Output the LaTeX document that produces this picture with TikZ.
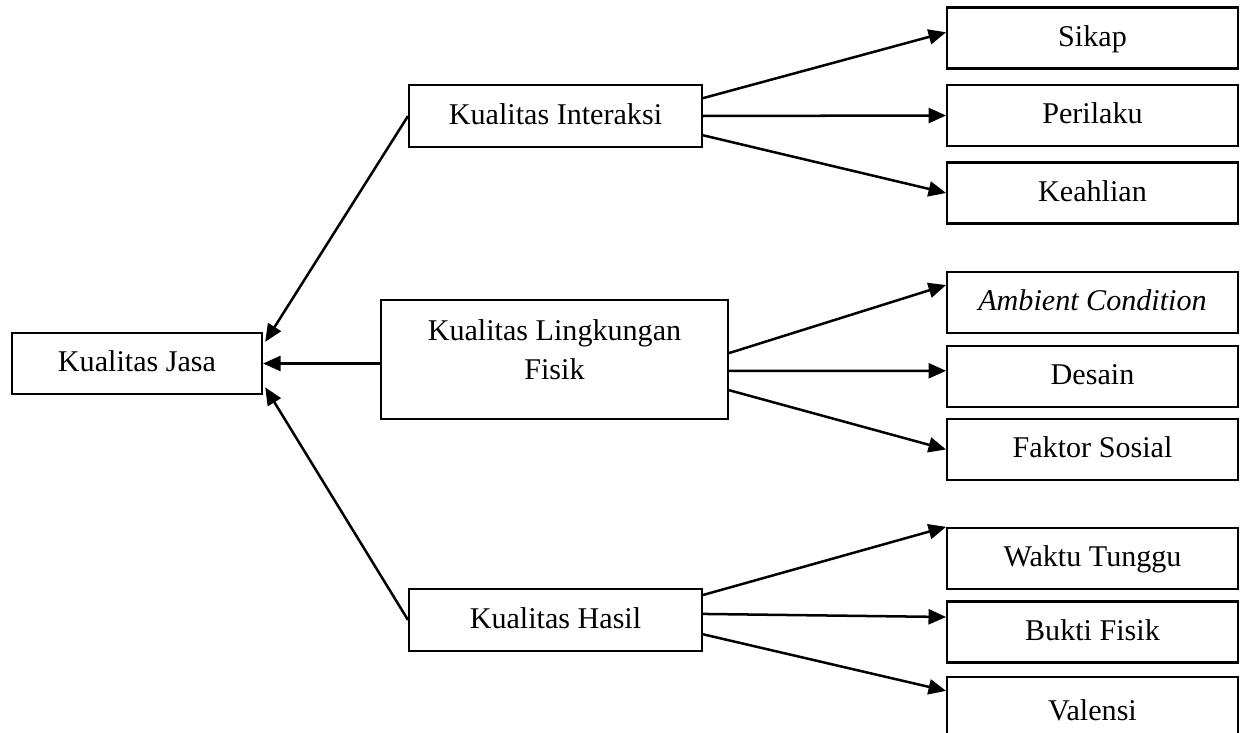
\documentclass[tikz,border=0pt]{standalone}
\usepackage{fontspec}
\setmainfont{Liberation Serif}
\usetikzlibrary{arrows.meta}
\tikzset{
	kotak/.style={draw,line width=0.9pt,rectangle,inner sep=0pt,text height=9pt,text depth=2.5pt,font=\fontsize{12}{15.5}\selectfont},
	tengah/.style={kotak,minimum width=4.1cm,minimum height=0.87cm},
	kanan/.style={kotak,minimum width=4.07cm,minimum height=0.855cm},
	panah/.style={line width=1pt,-{Triangle[length=7pt,width=6pt]}},
}
\begin{document}
\begin{tikzpicture}[x=0.014cm,y=-0.014cm]
		\clip (0,0) rectangle (1240,733);
		% induk
		\node[kotak,minimum width=3.5cm,minimum height=0.855cm] (jasa) at (137,363.5) {Kualitas Jasa};
		% dimensi
		\node[tengah] (ki) at (555.5,116) {Kualitas Interaksi};
		\node[kotak,minimum width=4.86cm,minimum height=1.67cm] (klf) at (554.5,359.5) {};
		\node[align=center,font=\fontsize{12}{15.5}\selectfont] (klft) at (554.5,350) {Kualitas Lingkungan\\Fisik};
		\node[tengah] (kh) at (555.5,620) {Kualitas Hasil};
		% sub-dimensi
		\node[kanan] (sikap) at (1092.5,38) {Sikap};
		\node[kanan] (perilaku) at (1092.5,115.5) {Perilaku};
		\node[kanan] (keahlian) at (1092.5,193) {Keahlian};
		\node[kanan] (ambient) at (1092.5,302.5) {\textit{Ambient Condition}};
		\node[kanan] (desain) at (1092.5,376.5) {Desain};
		\node[kanan] (faktor) at (1092.5,449.5) {Faktor Sosial};
		\node[kanan] (waktu) at (1092.5,558.5) {Waktu Tunggu};
		\node[kanan] (bukti) at (1092.5,632) {Bukti Fisik};
		\node[kanan,minimum height=0.98cm] (valensi) at (1092.5,712) {Valensi};
		% panah ke kualitas jasa
		\draw[panah] (ki.west) -- ([xshift=0.03cm,yshift=-0.14cm]jasa.north east);
		\draw[panah] (klf.west |- jasa.east) -- (jasa.east);
		\draw[panah] (kh.west) -- ([xshift=0.03cm,yshift=0.11cm]jasa.south east);
		% panah ke sub-dimensi
		\draw[panah] ([yshift=0.25cm]ki.east) -- ([yshift=0.08cm]sikap.west);
		\draw[panah] (ki.east) -- (perilaku.west);
		\draw[panah] ([yshift=-0.27cm]ki.east) -- (keahlian.west);
		\draw[panah] ([yshift=0.09cm]klf.east) -- ([yshift=0.245cm]ambient.west);
		\draw[panah] ([yshift=-0.16cm]klf.east) -- ([yshift=0.08cm]desain.west);
		\draw[panah] ([yshift=-0.43cm]klf.east) -- (faktor.west);
		\draw[panah] ([yshift=0.35cm]kh.east) -- (waktu.north west);
		\draw[panah] ([yshift=0.085cm]kh.east) -- ([yshift=0.21cm]bukti.west);
		\draw[panah] ([yshift=-0.2cm]kh.east) -- ([yshift=-0.21cm]valensi.north west);
\end{tikzpicture}
\end{document}
